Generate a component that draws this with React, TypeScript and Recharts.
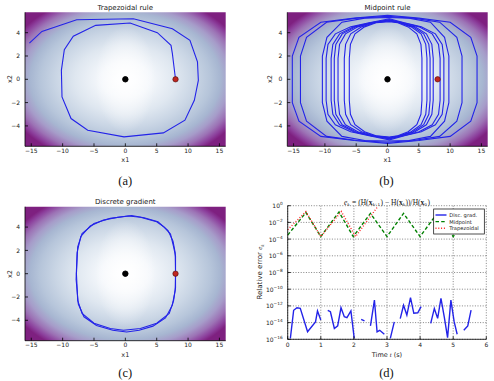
import React from 'react';
import {
  ComposedChart,
  Line,
  XAxis,
  YAxis,
  ReferenceArea,
  ReferenceDot,
  CartesianGrid,
} from 'recharts';

const SANS = '"DejaVu Sans", sans-serif';
const SERIF = '"Liberation Serif", serif';
const INK = '#222';
const TRAJ = '#2323e8';

// phase plane (x1, x2)
const x1Range = [-16, 16];
const x2Range = [-5.75, 5.75];
const x1Ticks = [-15, -10, -5, 0, 5, 10, 15];
const x2Ticks = [-4, -2, 0, 2, 4];
const equilibrium = [0, 0];
const initialState = [8, 0];

// trapezoidal rule: spirals outwards
const trapezoidalPath = [
  [8, 0], [7.76, 1.06], [7.5, 2.2], [7.28, 2.91], [5.1, 4.0], [0.75, 4.83],
  [-4.73, 4.63], [-8.3, 3.69], [-9.73, 2.54], [-10.2, 0.77], [-10.1, -1.51],
  [-8.66, -3.37], [-6.0, -4.37], [-0.21, -4.94], [6.06, -4.6], [9.5, -3.51],
  [11.0, -1.8], [11.64, -0.09], [11.5, 1.49], [10.3, 3.34], [7.5, 4.34],
  [1.28, 5.2], [-7.76, 5.11], [-13.3, 4.11], [-15.3, 3.11],
];

// midpoint rule: one array per revolution
const midpointLoops = [
  [[5.5, 0], [5.5, 1.8], [5.34, 3.0], [4.68, 3.9], [3.3, 4.5], [1.65, 4.85], [0.3, 4.95],
   [-1.83, 4.85], [-3.66, 4.5], [-5.19, 3.9], [-5.92, 3.0], [-6.1, 1.8], [-6.1, 0],
   [-6.1, -1.8], [-5.92, -3.0], [-5.19, -3.9], [-3.66, -4.5], [-1.83, -4.85], [0.3, -4.95],
   [1.65, -4.85], [3.3, -4.5], [4.68, -3.9], [5.34, -3.0], [5.5, -1.8], [5.5, 0]],
  [[6.3, 0], [6.3, 1.8], [6.11, 3.0], [5.36, 3.9], [3.78, 4.5], [1.89, 4.85], [0.3, 5.0],
   [-2.07, 4.85], [-4.14, 4.5], [-5.87, 3.9], [-6.69, 3.0], [-6.9, 1.8], [-6.9, 0],
   [-6.9, -1.8], [-6.69, -3.0], [-5.87, -3.9], [-4.14, -4.5], [-2.07, -4.85], [0.3, -5.0],
   [1.89, -4.85], [3.78, -4.5], [5.36, -3.9], [6.11, -3.0], [6.3, -1.8], [6.3, 0]],
  [[6.8, 0], [6.8, 1.8], [6.6, 3.0], [5.78, 3.9], [4.08, 4.5], [2.04, 4.85], [0.3, 5.05],
   [-2.37, 4.85], [-4.74, 4.5], [-6.72, 3.9], [-7.66, 3.0], [-7.9, 1.8], [-7.9, 0],
   [-7.9, -1.8], [-7.66, -3.0], [-6.72, -3.9], [-4.74, -4.5], [-2.37, -4.85], [0.3, -5.05],
   [2.04, -4.85], [4.08, -4.5], [5.78, -3.9], [6.6, -3.0], [6.8, -1.8], [6.8, 0]],
  [[7.3, 0], [7.3, 1.8], [7.08, 3.0], [6.21, 3.9], [4.38, 4.5], [2.19, 4.85], [0.3, 5.1],
   [-2.55, 4.85], [-5.1, 4.5], [-7.23, 3.9], [-8.25, 3.0], [-8.5, 1.8], [-8.5, 0],
   [-8.5, -1.8], [-8.25, -3.0], [-7.23, -3.9], [-5.1, -4.5], [-2.55, -4.85], [0.3, -5.1],
   [2.19, -4.85], [4.38, -4.5], [6.21, -3.9], [7.08, -3.0], [7.3, -1.8], [7.3, 0]],
  [[8.4, 0], [8.4, 1.8], [8.15, 3.0], [7.14, 3.9], [5.04, 4.5], [2.52, 4.85], [0.3, 5.1],
   [-2.7, 4.85], [-5.4, 4.5], [-7.65, 3.9], [-8.73, 3.0], [-9.0, 1.8], [-9.0, 0],
   [-9.0, -1.8], [-8.73, -3.0], [-7.65, -3.9], [-5.4, -4.5], [-2.7, -4.85], [0.3, -5.1],
   [2.52, -4.85], [5.04, -4.5], [7.14, -3.9], [8.15, -3.0], [8.4, -1.8], [8.4, 0]],
  [[9.0, 0], [9.0, 1.8], [8.73, 3.0], [7.65, 3.9], [5.4, 4.5], [2.7, 4.85], [0.3, 5.2],
   [-2.94, 4.85], [-5.88, 4.5], [-8.33, 3.9], [-9.51, 3.0], [-9.8, 1.8], [-9.8, 0],
   [-9.8, -1.8], [-9.51, -3.0], [-8.33, -3.9], [-5.88, -4.5], [-2.94, -4.85], [0.3, -5.2],
   [2.7, -4.85], [5.4, -4.5], [7.65, -3.9], [8.73, -3.0], [9.0, -1.8], [9.0, 0]],
  [[9.8, 0], [9.8, 2.0], [9.11, 3.6], [6.86, 4.9], [3.43, 5.25], [0, 5.3],
   [-3.64, 5.25], [-7.28, 4.9], [-9.67, 3.6], [-10.4, 2.0], [-10.4, 0],
   [-10.4, -2.0], [-9.67, -3.6], [-7.28, -4.9], [-3.64, -5.25], [0, -5.3],
   [3.43, -5.25], [6.86, -4.9], [9.11, -3.6], [9.8, -2.0], [9.8, 0]],
  [[11.9, 0], [11.9, 2.0], [11.07, 3.6], [8.33, 4.9], [4.17, 5.25], [0, 5.4],
   [-4.87, 5.25], [-9.73, 4.9], [-12.93, 3.6], [-13.9, 2.0], [-13.9, 0],
   [-13.9, -2.0], [-12.93, -3.6], [-9.73, -4.9], [-4.87, -5.25], [0, -5.4],
   [4.17, -5.25], [8.33, -4.9], [11.07, -3.6], [11.9, -2.0], [11.9, 0]],
  [[14.3, 0], [14.3, 2.0], [13.3, 3.6], [10.01, 4.9], [5.0, 5.25], [0, 5.5],
   [-5.32, 5.25], [-10.64, 4.9], [-14.14, 3.6], [-15.2, 2.0], [-15.2, 0],
   [-15.2, -2.0], [-14.14, -3.6], [-10.64, -4.9], [-5.32, -5.25], [0, -5.5],
   [5.0, -5.25], [10.01, -4.9], [13.3, -3.6], [14.3, -2.0], [14.3, 0]],
];

// discrete gradient: stays on the level set
const discreteGradientLoops = [
  [[8, 0], [8, 1.5], [7.7, 2.3], [7.2, 3.4], [6.2, 4.0], [5.0, 4.45], [2.4, 4.85], [0.5, 4.95],
   [-2.4, 4.75], [-5.0, 4.3], [-6.9, 3.45], [-7.6, 2.3], [-7.8, 0], [-7.6, -2.3], [-6.9, -3.4],
   [-5.0, -4.25], [-2.4, -4.7], [-0.3, -4.85], [2.4, -4.7], [5.0, -4.25], [7.0, -3.4],
   [7.7, -2.3], [8, -1.2], [8, 0]],
  [[8, 0], [7.95, 1.8], [7.6, 2.8], [6.8, 3.7], [5.2, 4.45], [3.0, 4.8], [1.0, 5.0],
   [-1.2, 4.85], [-3.5, 4.6], [-5.6, 4.1], [-7.1, 3.2], [-7.7, 1.8], [-7.85, -0.5],
   [-7.5, -2.6], [-6.6, -3.7], [-4.6, -4.45], [-2.0, -4.85], [0.2, -5.0], [2.2, -4.85],
   [4.4, -4.5], [6.4, -3.8], [7.5, -2.7], [7.95, -1.4], [8, 0]],
];

// relative energy error per step, [t, e_k]; null = exactly zero
const timeTicks = [0, 1, 2, 3, 4, 5, 6];
const errorTicks = [1e-16, 1e-14, 1e-12, 1e-10, 1e-8, 1e-6, 1e-4, 1e-2, 1];
const discGradError = [
  [0.08, 1.3e-16], [0.18, 3e-13], [0.28, 6e-13], [0.38, 5e-13], [0.6, 8e-16], [0.84, 1.2e-14],
  [0.9, 2.5e-13], [1.0, 2e-14], [1.1, null],
  [1.21, 3e-13], [1.29, 2e-13], [1.41, 2e-15], [1.51, 4e-15], [1.61, 6e-13], [1.71, 5e-14],
  [1.79, 4e-14], [1.91, 2.5e-13], [2.01, 1.3e-16], [2.1, null],
  [2.22, 2.5e-14], [2.32, 1.6e-14], [2.42, null],
  [2.5, 4e-15], [2.62, 5e-12], [2.7, 8e-16], [2.78, 1.2e-15], [2.92, 4e-16], [3.0, null],
  [3.1, 1.3e-16], [3.22, 1.2e-14], [3.3, null],
  [3.4, 3e-14], [3.5, 1.2e-12], [3.6, 8e-14], [3.71, 1e-11], [3.81, 1.3e-13], [3.93, 1.5e-13],
  [4.03, 8e-13], [4.15, null],
  [4.32, 8e-15], [4.43, 5e-13], [4.53, 3.2e-14], [4.63, 8e-12], [4.73, 5e-14], [4.83, 1.6e-16],
  [4.93, 5e-12], [5.03, 1.2e-14], [5.12, 4e-16], [5.2, null],
  [5.32, 1.2e-15], [5.44, 4e-15], [5.54, 3.2e-13],
];
const midpointError = [
  [0, 3e-4], [0.55, 1.5e-1], [1.0, 2e-4], [1.55, 1.8e-1], [1.98, 2e-4], [2.5, 1.2e-1],
  [3.0, 2e-4], [3.5, 1.2e-1], [4.0, 2e-4], [4.5, 1e-1], [5.0, 2e-4], [5.5, 1e-1],
];
const trapezoidalError = [
  [0, 1.3e-3], [0.55, 2e-1], [1.0, 2e-4], [1.62, 2e-1], [2.05, 2e-4], [2.72, 8e-1],
];

const seriesLegend = [
  { name: 'Disc. grad.', color: TRAJ, dash: undefined },
  { name: 'Midpoint', color: '#008000', dash: '3.5 2.2' },
  { name: 'Trapezoidal', color: '#ff2020', dash: '1 1.8' },
];

const pts = (arr: (number | null)[][]) => arr.map(([x, y]) => ({ x, y }));
const minus = (v: number) => (v < 0 ? '\u2212' + Math.abs(v) : String(v));

const tickFont = { fontSize: 6, fill: INK, fontFamily: SANS };
const frame = { stroke: '#000', strokeWidth: 0.8 };

function PowerTick(props: any) {
  const { x, y, payload } = props;
  const p = Math.round(Math.log10(payload.value));
  return (
    <text x={x} y={y} dy={2.4} textAnchor="end" fontFamily={SANS} fontSize={6} fill={INK}>
      10
      <tspan dy={-3} fontSize={4.3}>{p < 0 ? '\u2212' + -p : String(p)}</tspan>
    </text>
  );
}

type PhaseProps = {
  left: number;
  top: number;
  marginTop: number;
  marginRight: number;
  yAxisWidth: number;
  xAxisHeight: number;
  paths: number[][][];
};

function PhasePanel({ left, top, marginTop, marginRight, yAxisWidth, xAxisHeight, paths }: PhaseProps) {
  const height = marginTop + 134 + xAxisHeight;
  return (
    <div style={{ position: 'absolute', left, top }}>
      <ComposedChart width={247} height={height} margin={{ top: marginTop, right: marginRight, bottom: 0, left: 0 }}>
        <XAxis type="number" dataKey="x" domain={x1Range} ticks={x1Ticks} allowDataOverflow interval={0}
          height={xAxisHeight} tickSize={-3} tickMargin={5} tick={tickFont} tickFormatter={minus}
          axisLine={frame} tickLine={frame} />
        <XAxis xAxisId="top" orientation="top" type="number" domain={x1Range} ticks={x1Ticks} allowDataOverflow
          interval={0} height={0} tickSize={-3} tick={false} axisLine={frame} tickLine={frame} />
        <YAxis type="number" dataKey="y" domain={x2Range} ticks={x2Ticks} allowDataOverflow interval={0}
          width={yAxisWidth} tickSize={-3} tickMargin={8} tick={tickFont} tickFormatter={minus}
          axisLine={frame} tickLine={frame} />
        <YAxis yAxisId="right" orientation="right" type="number" domain={x2Range} ticks={x2Ticks} allowDataOverflow
          interval={0} width={0} tickSize={-3} tick={false} axisLine={frame} tickLine={frame} />
        <ReferenceArea x1={x1Range[0]} x2={x1Range[1]} y1={x2Range[0]} y2={x2Range[1]} fill="url(#bupu)" fillOpacity={1} stroke="none" />
        <ReferenceArea x1={x1Range[0]} x2={x1Range[1]} y1={x2Range[0]} y2={x2Range[1]} fill="url(#core)" fillOpacity={1} stroke="none" />
        {paths.map((p, i) => (
          <Line key={i} data={pts(p)} dataKey="y" type="linear" stroke={TRAJ} strokeWidth={1.1}
            dot={false} activeDot={false} isAnimationActive={false} />
        ))}
        <ReferenceDot x={equilibrium[0]} y={equilibrium[1]} r={2.7} fill="#000" stroke="#000" />
        <ReferenceDot x={initialState[0]} y={initialState[1]} r={2.7} fill="#c0261f" stroke="#4a0c0a" strokeWidth={0.6} />
      </ComposedChart>
    </div>
  );
}

function ErrorPanel() {
  return (
    <div style={{ position: 'absolute', left: 247, top: 190 }}>
      <ComposedChart width={247} height={165} margin={{ top: 15.7, right: 7.7, bottom: 0, left: 0 }}>
        <CartesianGrid stroke="#333" strokeDasharray="1 1.6" strokeWidth={0.6} />
        <XAxis type="number" dataKey="x" domain={[0, 6]} ticks={timeTicks} allowDataOverflow interval={0}
          height={15.7} tickSize={-3} tickMargin={6} tick={tickFont} axisLine={frame} tickLine={frame} />
        <XAxis xAxisId="top" orientation="top" type="number" domain={[0, 6]} ticks={timeTicks} allowDataOverflow
          interval={0} height={0} tickSize={-3} tick={false} axisLine={frame} tickLine={frame} />
        <YAxis type="number" scale="log" dataKey="y" domain={[1e-16, 1]} ticks={errorTicks} allowDataOverflow
          interval={0} width={40.7} tickSize={-3} tickMargin={8} tick={<PowerTick />} axisLine={frame} tickLine={frame} />
        <YAxis yAxisId="right" orientation="right" type="number" scale="log" domain={[1e-16, 1]} ticks={errorTicks}
          allowDataOverflow interval={0} width={0} tickSize={-3} tick={false} axisLine={frame} tickLine={frame} />
        <Line data={pts(discGradError)} dataKey="y" type="linear" stroke={seriesLegend[0].color} strokeWidth={1.4}
          connectNulls={false} dot={false} activeDot={false} isAnimationActive={false} />
        <Line data={pts(midpointError)} dataKey="y" type="linear" stroke={seriesLegend[1].color} strokeWidth={1.4}
          strokeDasharray={seriesLegend[1].dash} dot={false} activeDot={false} isAnimationActive={false} />
        <Line data={pts(trapezoidalError)} dataKey="y" type="linear" stroke={seriesLegend[2].color} strokeWidth={1.4}
          strokeDasharray={seriesLegend[2].dash} dot={false} activeDot={false} isAnimationActive={false} />
      </ComposedChart>
    </div>
  );
}

function Sub({ children, dy = 1.6 }: { children: React.ReactNode; dy?: number }) {
  return (
    <>
      <tspan dy={dy} fontSize={5}>{children}</tspan>
      <tspan dy={-dy}>{'\u200a'}</tspan>
    </>
  );
}

export default function App() {
  const label = { fontFamily: SANS, fill: INK, textAnchor: 'middle' as const };
  const caption = { fontFamily: SERIF, fontSize: 12.5, fill: '#111', textAnchor: 'middle' as const };
  return (
    <div style={{ position: 'absolute', left: 0, top: 0, width: 494, height: 381, background: '#fff' }}>
      <svg width={0} height={0} style={{ position: 'absolute' }}>
        <defs>
          {/* level-set shading, white at the minimum, purple towards the corners */}
          <radialGradient id="bupu" cx="0.5" cy="0.5" r="0.5"
            gradientTransform="translate(0.5 0.5) scale(1.25 1.3) translate(-0.5 -0.5)">
            <stop offset="0" stopColor="#ffffff" />
            <stop offset="0.2" stopColor="#f4f7fb" />
            <stop offset="0.4" stopColor="#dfe7f0" />
            <stop offset="0.55" stopColor="#cad6e5" />
            <stop offset="0.68" stopColor="#b6c5da" />
            <stop offset="0.76" stopColor="#a7b6d1" />
            <stop offset="0.83" stopColor="#a69cc9" />
            <stop offset="0.9" stopColor="#9c72b5" />
            <stop offset="0.96" stopColor="#8c3f9c" />
            <stop offset="1" stopColor="#7e2080" />
          </radialGradient>
          <radialGradient id="core" cx="0.5" cy="0.5" r="0.5"
            gradientTransform="translate(0.5 0.5) scale(0.3 0.8) translate(-0.5 -0.5)">
            <stop offset="0" stopColor="#ffffff" stopOpacity={0.85} />
            <stop offset="0.6" stopColor="#ffffff" stopOpacity={0.4} />
            <stop offset="1" stopColor="#ffffff" stopOpacity={0} />
          </radialGradient>
        </defs>
      </svg>

      <PhasePanel left={0} top={0} marginTop={12.3} marginRight={21.3} yAxisWidth={25} xAxisHeight={19} paths={[trapezoidalPath]} />
      <PhasePanel left={247} top={0} marginTop={12.3} marginRight={6.3} yAxisWidth={40.3} xAxisHeight={19} paths={midpointLoops} />
      <PhasePanel left={0} top={190} marginTop={16.7} marginRight={21.3} yAxisWidth={25} xAxisHeight={14} paths={discreteGradientLoops} />
      <ErrorPanel />

      <svg width={494} height={381} style={{ position: 'absolute', left: 0, top: 0, pointerEvents: 'none' }}>
        <text x={125.3} y={10} fontSize={7} {...label}>Trapezoidal rule</text>
        <text x={387.5} y={10} fontSize={7} {...label}>Midpoint rule</text>
        <text x={125.3} y={204} fontSize={7} {...label}>Discrete gradient</text>

        <text x={125.3} y={162} fontSize={6.5} {...label}>x1</text>
        <text x={387.5} y={162} fontSize={6.5} {...label}>x1</text>
        <text x={125.3} y={357} fontSize={6.5} {...label}>x1</text>
        <text x={10} y={79} fontSize={6.5} {...label} dominantBaseline="central" transform="rotate(-90 10 79)">x2</text>
        <text x={270} y={79} fontSize={6.5} {...label} dominantBaseline="central" transform="rotate(-90 270 79)">x2</text>
        <text x={10} y={274} fontSize={6.5} {...label} dominantBaseline="central" transform="rotate(-90 10 274)">x2</text>

        <text x={387} y={204.5} fontFamily={SERIF} fontSize={7.5} fill={INK} textAnchor="middle">
          <tspan fontStyle="italic">e</tspan>
          <Sub><tspan fontStyle="italic">k</tspan></Sub>
          {' = (H('}
          <tspan fontWeight="bold">x</tspan>
          <Sub><tspan fontStyle="italic">k</tspan>+1</Sub>
          {') \u2212 H('}
          <tspan fontWeight="bold">x</tspan>
          <Sub><tspan fontStyle="italic">k</tspan></Sub>
          {'))/H('}
          <tspan fontWeight="bold">x</tspan>
          <Sub>0</Sub>
          {')'}
        </text>
        <text x={260} y={272} fontSize={7} {...label} dominantBaseline="central" transform="rotate(-90 260 272)">
          Relative error <tspan fontFamily={SERIF} fontStyle="italic">e</tspan>
          <tspan dy={1.5} fontSize={5} fontFamily={SERIF} fontStyle="italic">k</tspan>
        </text>
        <text x={387} y={357} fontSize={6.5} {...label}>
          Time <tspan fontFamily={SERIF} fontStyle="italic">t</tspan> (s)
        </text>

        <g>
          <rect x={433.7} y={209} width={50.6} height={25} fill="#fff" stroke="#000" strokeWidth={0.7} />
          {seriesLegend.map((s, i) => {
            const y = 215 + i * 6.6;
            return (
              <g key={s.name}>
                <line x1={435.5} x2={446.5} y1={y} y2={y} stroke={s.color} strokeWidth={1.4} strokeDasharray={s.dash} />
                <text x={449.3} y={y} fontFamily={SANS} fontSize={5.2} fill={INK} dominantBaseline="central">{s.name}</text>
              </g>
            );
          })}
        </g>

        <text x={125.3} y={185} {...caption}>(a)</text>
        <text x={386.5} y={185} {...caption}>(b)</text>
        <text x={125.3} y={377} {...caption}>(c)</text>
        <text x={386.5} y={377} {...caption}>(d)</text>
      </svg>
    </div>
  );
}
